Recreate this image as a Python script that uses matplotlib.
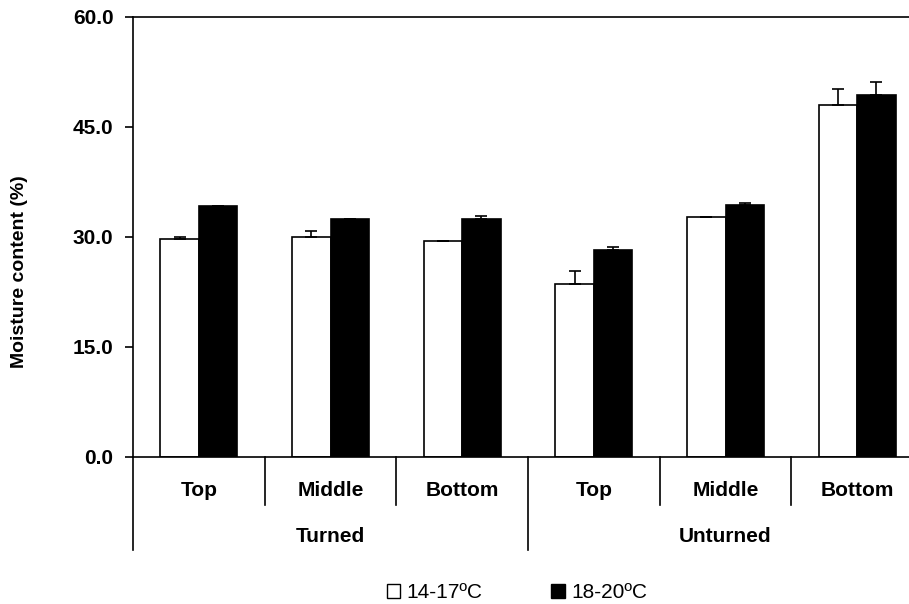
import numpy as np
import matplotlib.pyplot as plt
from matplotlib.patches import Patch

plt.rcParams['font.family'] = ['Liberation Sans', 'DejaVu Sans']

positions = ['Top', 'Middle', 'Bottom', 'Top', 'Middle', 'Bottom']
groups = ['Turned', 'Unturned']
low_temp = [29.7, 30.0, 29.5, 23.6, 32.7, 48.0]
low_err = [0.3, 0.8, 0.0, 1.8, 0.0, 2.2]
high_temp = [34.2, 32.5, 32.5, 28.2, 34.4, 49.4]
high_err = [0.0, 0.0, 0.3, 0.5, 0.2, 1.8]
series_names = ['14-17ºC', '18-20ºC']

fig = plt.figure(figsize=(9.09, 6.04), dpi=100)
W, H = 909, 604
ax = fig.add_axes([133/W, 1 - 457/H, (923-133)/W, (457-17)/H])

x = np.arange(len(positions))
w = 0.293
lw = 1.2
ax.bar(x - w/2, low_temp, w, color='white', edgecolor='black', linewidth=lw,
       yerr=[np.zeros(6), low_err], capsize=4,
       error_kw=dict(elinewidth=lw, capthick=lw, ecolor='black'))
ax.bar(x + w/2, high_temp, w, color='black', edgecolor='black', linewidth=lw,
       yerr=[np.zeros(6), high_err], capsize=4,
       error_kw=dict(elinewidth=lw, capthick=lw, ecolor='black'))

ax.set_xlim(-0.5, 5.5)
ax.set_ylim(0, 60)
ax.set_yticks([0, 15, 30, 45, 60])
ax.set_yticklabels(['%.1f' % v for v in [0, 15, 30, 45, 60]],
                   fontsize=15, fontweight='bold')
ax.tick_params(axis='y', direction='out', length=6, width=lw, pad=8)
ax.set_xticks([])
for s in ax.spines.values():
    s.set_linewidth(lw)
ax.spines['right'].set_visible(False)
ax.set_ylabel('Moisture content (%)', fontsize=14, fontweight='bold')
ax.yaxis.set_label_coords((28-133)/790, (457-272)/440)

# category dividers below the axis
trans = ax.get_xaxis_transform()
inner = -(505-457)/(457-17)
outer = -(550-457)/(457-17)
for e in [0.5, 1.5, 3.5, 4.5]:
    ax.plot([e, e], [0, inner], color='black', lw=lw, transform=trans, clip_on=False)
for e in [-0.5, 2.5, 5.5]:
    ax.plot([e, e], [0, outer], color='black', lw=lw, transform=trans, clip_on=False)

y_pos = -(491-457)/(457-17)
for xi, lab in zip(x, positions):
    ax.text(xi, y_pos, lab, transform=trans, ha='center', va='center',
            fontsize=15, fontweight='bold')
y_grp = -(537-457)/(457-17)
for gi, lab in enumerate(groups):
    ax.text(gi*3 + 1, y_grp, lab, transform=trans, ha='center', va='center',
            fontsize=15, fontweight='bold')

handles = [Patch(facecolor='white', edgecolor='black', linewidth=1.0),
           Patch(facecolor='black', edgecolor='black', linewidth=1.0)]
fig.legend(handles, series_names, loc='center', bbox_to_anchor=(517/W, 1 - 593/H),
           ncol=2, frameon=False, fontsize=15, handlelength=0.65, handleheight=0.65,
           handletextpad=0.3, columnspacing=3.3)

fig.savefig('out.png', dpi=100)
